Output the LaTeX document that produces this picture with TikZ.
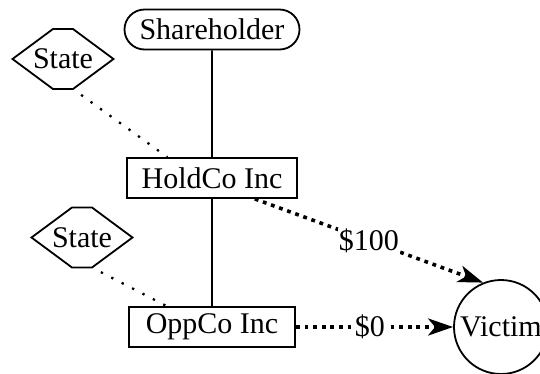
\documentclass[tikz,border=0pt]{standalone}
\usepackage{fontspec}
\setmainfont{Liberation Serif}
\usetikzlibrary{arrows.meta,positioning,calc,shapes.misc}

\begin{document}
\begin{tikzpicture}[x=1pt, y=-1pt, >={Stealth[length=25pt,width=17pt,inset=7pt]},
    every node/.style={font=\fontsize{30}{36}\selectfont, line width=1.8pt},
    entity/.style={draw, rectangle, minimum height=40pt, inner sep=0pt},
    statebox/.style={draw, line width=1.8pt, line join=miter},
    tie/.style={line width=1.8pt},
    oversight/.style={line width=2.3pt, dash pattern=on 2.3pt off 9.4pt, shorten <=10pt},
    payment/.style={->, line width=3.6pt, dash pattern=on 3.8pt off 4.8pt},
    amount/.style={fill=white, inner sep=1pt}]

    \useasboundingbox (0,0) rectangle (540,373);

    % Ownership chain
    \node[rounded rectangle, draw, minimum width=175pt, minimum height=40pt, inner sep=0pt] (holder) at (212,29.5) {Shareholder};
    \node[entity, minimum width=170pt] (holdco) at (212,178) {HoldCo Inc};
    \node[entity, minimum width=166pt] (oppco) at (212,327) {OppCo Inc};
    \draw[tie] (holder) -- (holdco);
    \draw[tie] (holdco) -- (oppco);

    % Claimant
    \node[circle, draw, minimum size=94pt, inner sep=0pt] (victim) at (501,327) {Victim};

    % States, hexagons drawn round the labels
    \node (state1) at (63,59) {State};
    \node (state2) at (82,237.5) {State};
    \foreach \s in {state1,state2}
        \draw[statebox] (\s.center) +(-50.5,0) -- +(-10,-30) -- +(10,-30) -- +(50.5,0) -- +(10,30) -- +(-10,30) -- cycle;
    \coordinate (corner1) at ($(state1)+(10,30)$);
    \coordinate (corner2) at ($(state2)+(10,30)$);
    \coordinate (tie1) at ($(holdco.north west)!0.24!(holdco.north east)$);
    \coordinate (tie2) at ($(oppco.north west)!0.23!(oppco.north east)$);
    \draw[oversight] (corner1) -- (tie1);
    \draw[oversight] (corner2) -- (tie2);

    % Payments
    \draw[payment] (holdco.-26) -- node[amount] {\$100} (victim.112);
    \draw[payment] (oppco) -- node[amount, pos=0.47] {\$0} (victim);
\end{tikzpicture}
\end{document}
